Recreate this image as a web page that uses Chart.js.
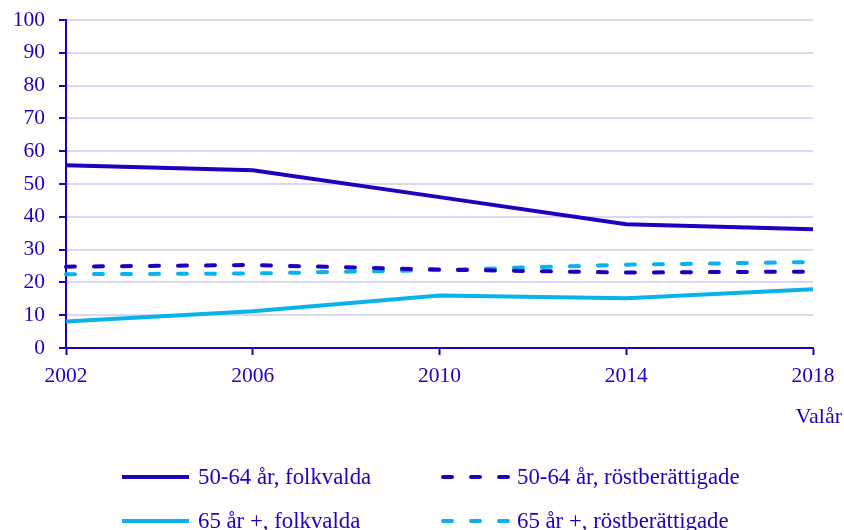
<!DOCTYPE html>
<html>
<head>
<meta charset="utf-8">
<script src="https://cdn.jsdelivr.net/npm/chart.js@4"></script>
<style>
  html, body { margin: 0; padding: 0; background: #fff; }
  #wrap { position: relative; width: 844px; height: 530px; font-family: "Liberation Serif", serif; color: #1E00BE; }
  canvas { position: absolute; left: 0; top: 0; }
  .lbl { position: absolute; white-space: nowrap; font-size: 22px; line-height: 22px; }
  .leg { position: absolute; display: flex; align-items: center; white-space: nowrap; font-size: 22.8px; line-height: 26px; height: 26px; }
  .leg svg { margin-right: 7px; }
</style>
</head>
<body>
<div id="wrap">
  <canvas id="c" width="844" height="530"></canvas>
  <div class="lbl" id="xtitle" style="right:2px; top:405px;">Valår</div>
</div>
<script>
const categories = ["2002", "2006", "2010", "2014", "2018"];
const folkvalda5064 = [55.7, 54.2, 46.0, 37.7, 36.2];
const rostber5064 = [24.8, 25.3, 23.9, 23.0, 23.3];
const folkvalda65 = [8.1, 11.2, 16.0, 15.2, 17.9];
const rostber65 = [22.5, 22.7, 23.8, 25.4, 26.2];
const seriesNames = ["50-64 år, folkvalda", "50-64 år, röstberättigade", "65 år +, folkvalda", "65 år +, röstberättigade"];
const yTicks = [0, 10, 20, 30, 40, 50, 60, 70, 80, 90, 100];

const DARK = "rgb(30,0,190)";
const LIGHT = "rgb(10,178,235)";
const GRID = "rgb(216,216,240)";
const FONT = "'Liberation Serif', serif";

const datasets = [
  { label: seriesNames[0], data: folkvalda5064, borderColor: DARK, borderDash: [] },
  { label: seriesNames[1], data: rostber5064, borderColor: DARK, borderDash: [9, 19] },
  { label: seriesNames[2], data: folkvalda65, borderColor: LIGHT, borderDash: [] },
  { label: seriesNames[3], data: rostber65, borderColor: LIGHT, borderDash: [9, 19] }
].map(d => Object.assign(d, {
  borderWidth: 4, pointRadius: 0, fill: false, tension: 0,
  borderCapStyle: d.borderDash.length ? 'round' : 'butt', backgroundColor: d.borderColor
}));

new Chart(document.getElementById('c'), {
  type: 'line',
  data: { labels: categories, datasets: datasets },
  options: {
    responsive: false,
    animation: false,
    layout: { padding: { left: 0, right: 31, top: 20, bottom: 0 } },
    plugins: { legend: { display: false }, tooltip: { enabled: false } },
    scales: {
      x: {
        offset: false,
        grid: { display: true, drawOnChartArea: false, drawTicks: true, tickLength: 7, tickColor: DARK, tickWidth: 2 },
        border: { display: true, color: DARK, width: 2 },
        ticks: { color: DARK, font: { family: FONT, size: 21.5 }, padding: 8, maxRotation: 0, autoSkip: false },
        afterFit: s => { s.height = 182; s.paddingLeft = 0; s.paddingRight = 0; }
      },
      y: {
        min: 0, max: 100,
        afterBuildTicks: s => { s.ticks = yTicks.map(v => ({ value: v })); },
        grid: { color: GRID, lineWidth: 2, drawTicks: true, tickLength: 7, tickColor: DARK, tickWidth: 2 },
        border: { display: true, color: DARK, width: 2 },
        ticks: { color: DARK, font: { family: FONT, size: 21.5 }, padding: 14 },
        afterFit: s => { s.width = 66; s.paddingTop = 0; s.paddingBottom = 0; }
      }
    }
  }
});

// HTML legend built from the datasets
const wrap = document.getElementById('wrap');
const legPos = [[122, 464], [441, 464], [122, 508], [441, 508]];
datasets.forEach((d, i) => {
  const div = document.createElement('div');
  div.className = 'leg';
  div.style.left = legPos[i][0] + 'px';
  div.style.top = legPos[i][1] + 'px';
  const dashed = d.borderDash.length > 0;
  const w = 69;
  div.innerHTML = `<svg width="${w}" height="26"><line x1="${dashed ? 2 : 0}" y1="13" x2="${w - 2}" y2="13" stroke="${d.borderColor}" stroke-width="4" ${dashed ? 'stroke-dasharray="9 19" stroke-linecap="round"' : ''}/></svg><span>${d.label}</span>`;
  wrap.appendChild(div);
});
</script>
</body>
</html>
